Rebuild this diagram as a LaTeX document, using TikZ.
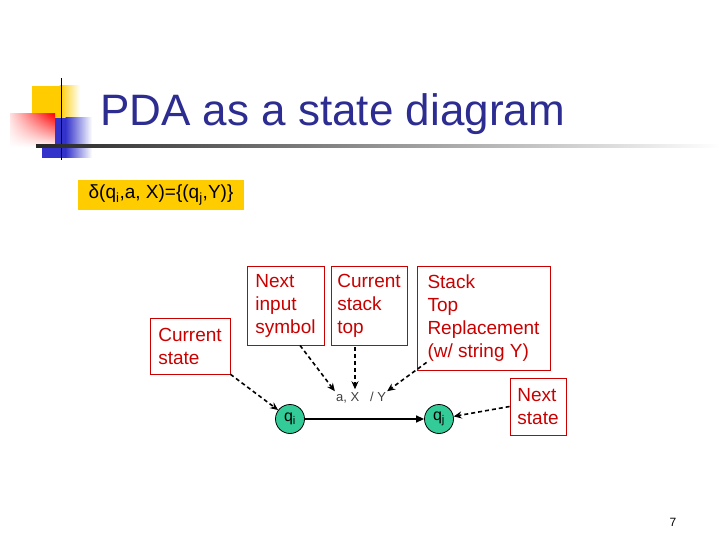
\documentclass[tikz,border=0pt]{standalone}
\usepackage{fontspec}
\setmainfont{Liberation Sans}
\usetikzlibrary{arrows.meta,calc,fadings}
\definecolor{titleblue}{RGB}{45,45,145}
\definecolor{boxred}{RGB}{200,0,0}
\definecolor{formulaY}{RGB}{255,204,0}
\definecolor{stategreen}{RGB}{51,204,153}
\definecolor{decoblue}{RGB}{51,51,204}
\tikzset{
  infobox/.style={draw=boxred, line width=0.8pt, text=boxred, align=left,
    font=\fontsize{19}{23}\selectfont, inner sep=3pt},
  statenode/.style={circle, draw=black, line width=0.8pt, fill=stategreen,
    minimum size=29pt, inner sep=0pt, font=\fontsize{16}{18}\selectfont},
  dasharrow/.style={draw=black, line width=1.6pt, dash pattern=on 4pt off 3pt,
    -{Stealth[length=8pt,width=7pt]}},
  solidarrow/.style={draw=black, line width=1.4pt, -{Triangle[length=8pt,width=7pt]}}
}
\begin{document}
\begin{tikzpicture}[x=1pt,y=-1pt]
\useasboundingbox (0,0) rectangle (720,540);
% title decoration
\fill[formulaY] (32,86) rectangle (60,130);
\shade[left color=formulaY, right color=white] (59.5,86) rectangle (80,130);
\fill[decoblue] (42,118) rectangle (66,158);
\shade[left color=decoblue, right color=white] (65.5,118) rectangle (92,158);
\shade[left color=red!12, right color=red] (10,114) rectangle (55,147);
\fill[white, path fading=north] (10,114) rectangle (55,147);
\draw[line width=1pt] (61,78) -- (61,160);
\shade[left color=black!85, right color=white] (36,144.5) rectangle (720,147.5);
\node[anchor=base west, text=titleblue, font=\fontsize{44}{50}\selectfont, inner sep=0pt] (title) at (100,126) {PDA as a state diagram};
% formula
\node[fill=formulaY, inner sep=3pt, minimum width=166pt, minimum height=30pt, font=\fontsize{19}{22}\selectfont] (formula) at (161,195) {δ(q\textsubscript{i},a, X)=\{(q\textsubscript{j},Y)\}};
% boxes
\node[infobox, minimum width=80pt, minimum height=56pt] (cs) at (190,346) {Current\\state};
\node[infobox, minimum width=77pt, minimum height=79pt] (nis) at (285.5,305.5) {Next\\input\\symbol};
\node[infobox, minimum width=76pt, minimum height=79pt] (cst) at (369,305.5) {Current\\stack\\top};
\node[infobox, minimum width=133pt, minimum height=104pt] (str) at (483.5,318) {Stack\\Top\\Replacement\\(w/ string Y)};
\node[infobox, minimum width=56pt, minimum height=57pt] (ns) at (538,406.5) {Next\\state};
% states
\node[statenode] (qi) at (290,419) {q\textsubscript{i}};
\node[statenode] (qj) at (439,419) {q\textsubscript{j}};
\node[font=\fontsize{13}{15}\selectfont, text=black!75, inner sep=1pt] (lab) at (361,398) {a, X \ \ / Y};
% connectors
\draw[solidarrow] (qi) -- (qj);
\draw[dasharrow] (cs.-35) -- (qi);
\draw[dasharrow] (nis.-70) -- (lab.north west);
\draw[dasharrow] ($(cst.south)+(-14,2)$) -- ($(lab.north)+(-6,-2)$);
\draw[dasharrow] ($(str.south west)+(10,-8)$) -- (lab.north east);
\draw[dasharrow] (ns.west) -- (qj);
% page number
\node[font=\fontsize{12}{14}\selectfont] (pg) at (673,522) {7};
\end{tikzpicture}
\end{document}
